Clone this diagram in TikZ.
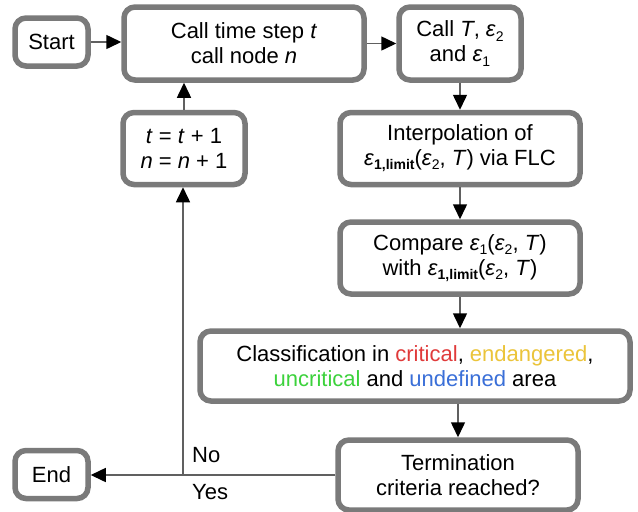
\documentclass[tikz,border=0pt]{standalone}
\usepackage{fontspec}
\setmainfont{Liberation Sans}
\usetikzlibrary{arrows.meta}
\definecolor{boxgray}{HTML}{7A7A7A}
\definecolor{linegray}{HTML}{606060}
\definecolor{crit}{HTML}{E03A3A}
\definecolor{endg}{HTML}{EBC43A}
\definecolor{uncrit}{HTML}{3CD23C}
\definecolor{undef}{HTML}{3A6FD8}
\newcommand\lsub[1]{\raisebox{-0.35ex}{\fontsize{14}{14}\selectfont #1}}
\newcommand\ee{\textit{ε}}
\begin{document}
\begin{tikzpicture}[x=1pt,y=-1pt,
  fbox/.style={draw=boxgray, line width=5.5pt, rounded corners=11pt, fill=white, align=center, inner sep=0pt, font=\fontsize{22}{25}\selectfont},
  conn/.style={draw=linegray, line width=1.5pt, -{Triangle[length=15pt,width=14pt,color=black]}},
  lbl/.style={font=\fontsize{22}{25}\selectfont, inner sep=0pt}]
\fill[white] (0,0) rectangle (638,512);
\useasboundingbox (0,0) rectangle (638,512);

\node[fbox, minimum width=73pt, minimum height=48pt] (start) at (51.5,42) {Start};
\node[fbox, minimum width=240pt, minimum height=73pt] (call) at (244,43.5) {Call time step \textit{t}\\call node \textit{n}};
\node[fbox, minimum width=122pt, minimum height=73pt] (callT) at (460,43.5) {Call \textit{T}, \ee\lsub{2}\\and \ee\lsub{1}};
\node[fbox, minimum width=122pt, minimum height=72pt] (tbox) at (184,148.5) {\textit{t} = \textit{t} + 1\\\textit{n} = \textit{n} + 1};
\node[fbox, minimum width=240pt, minimum height=72pt] (interp) at (460,148.5) {Interpolation of\\\ee\lsub{\textbf{1,limit}}(\ee\lsub{2}, \textit{T}) via FLC};
\node[fbox, minimum width=240pt, minimum height=72pt] (compare) at (460,258) {Compare \ee\lsub{1}(\ee\lsub{2}, \textit{T})\\with \ee\lsub{\textbf{1,limit}}(\ee\lsub{2}, \textit{T})};
\node[fbox, minimum width=430pt, minimum height=70pt] (class) at (415,366) {Classification in \textcolor{crit}{critical}, \textcolor{endg}{endangered},\\\textcolor{uncrit}{uncritical} and \textcolor{undef}{undefined} area};
\node[fbox, minimum width=240pt, minimum height=70pt] (term) at (458,475) {Termination\\criteria reached?};
\node[fbox, minimum width=73pt, minimum height=48pt] (end) at (51.5,474.5) {End};

\coordinate (j) at (183,475);
\node[lbl, anchor=west] (no) at (192,455) {No};
\node[lbl, anchor=west] (yes) at (192,492) {Yes};

\draw[conn] (start.east) -- (start.east -| call.west);
\draw[conn] (call.east) -- (call.east -| callT.west);
\draw[conn] (callT.south) -- (interp.north);
\draw[conn] (interp.south) -- (compare.north);
\draw[conn] (compare.south) -- (compare.south |- class.north);
\draw[conn] (term.north |- class.south) -- (term.north);
\draw[conn] (term.west) -- (term.west -| end.east);
\draw[conn] (j) -- (j |- tbox.south);
\draw[conn] (tbox.north) -- (tbox.north |- call.south);
\end{tikzpicture}
\end{document}
